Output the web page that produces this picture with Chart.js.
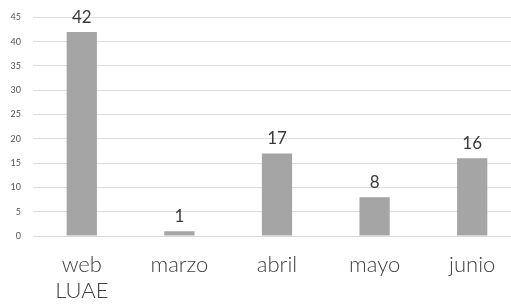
<!DOCTYPE html>
<html>
<head>
<meta charset="utf-8">
<script src="https://cdn.jsdelivr.net/npm/chart.js@4"></script>
<style>
  html, body { margin: 0; padding: 0; background: #fff; overflow: hidden; }
  #wrap { width: 530px; height: 305px; }
</style>
</head>
<body>
<div id="wrap"><canvas id="c" width="530" height="305"></canvas></div>
<script>
const categories = [["web", "LUAE"], "marzo", "abril", "mayo", "junio"];
const values = [42, 1, 17, 8, 16];
const yTicks = [0, 5, 10, 15, 20, 25, 30, 35, 40, 45];

const valueLabels = {
  id: 'valueLabels',
  afterDatasetsDraw(chart) {
    const ctx = chart.ctx;
    const meta = chart.getDatasetMeta(0);
    ctx.save();
    ctx.font = '17px Lato';
    ctx.fillStyle = '#3a3a3a';
    ctx.textAlign = 'center';
    ctx.textBaseline = 'alphabetic';
    meta.data.forEach((bar, i) => {
      ctx.fillText(String(values[i]), bar.x, bar.y - 9);
    });
    ctx.restore();
  }
};

new Chart(document.getElementById('c'), {
  type: 'bar',
  data: {
    labels: categories,
    datasets: [{
      data: values,
      backgroundColor: '#a5a5a5',
      borderWidth: 0,
      barPercentage: 0.31,
      categoryPercentage: 1
    }]
  },
  options: {
    responsive: false,
    animation: false,
    devicePixelRatio: 1,
    layout: { padding: { top: 16, right: 9, left: 0, bottom: 0 } },
    plugins: { legend: { display: false }, tooltip: { enabled: false } },
    scales: {
      x: {
        grid: { display: false, drawTicks: false },
        border: { display: false },
        ticks: {
          color: '#404040',
          font: { family: 'Lato', size: 22, weight: '300', lineHeight: 1.18 },
          padding: 16,
          maxRotation: 0,
          autoSkip: false
        },
        afterFit(s) { s.height = 69; }
      },
      y: {
        min: 0,
        max: 45,
        afterBuildTicks(s) { s.ticks = yTicks.map(v => ({ value: v })); },
        grid: { color: '#dcdcdc', lineWidth: 1, drawTicks: false },
        border: { display: false },
        ticks: {
          color: '#555',
          font: { family: 'Lato', size: 9 },
          padding: 12
        },
        afterFit(s) { s.width = 33; }
      }
    }
  },
  plugins: [valueLabels]
});
</script>
</body>
</html>
